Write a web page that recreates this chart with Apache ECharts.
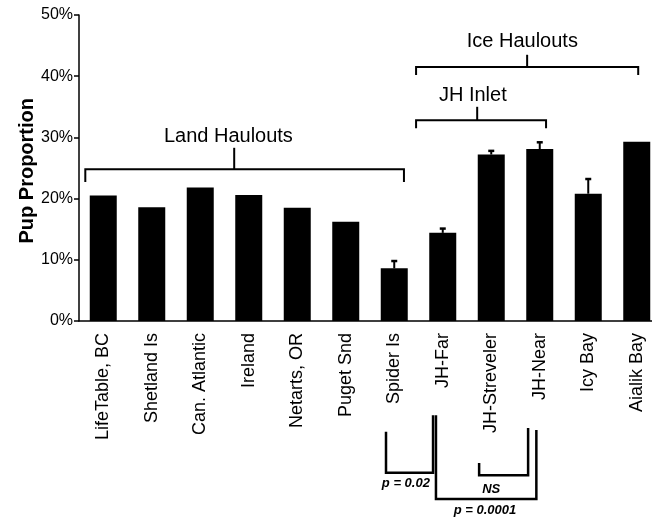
<!DOCTYPE html>
<html><head><meta charset="utf-8">
<script src="https://cdn.jsdelivr.net/npm/echarts@6/dist/echarts.min.js"></script>
<style>html,body{margin:0;padding:0;background:#fff}#c{width:652px;height:521px}</style>
</head><body><div id="c"></div>
<script>
const categories = ['LifeTable, BC','Shetland Is','Can. Atlantic','Ireland','Netarts, OR','Puget Snd','Spider Is','JH-Far','JH-Streveler','JH-Near','Icy Bay','Aialik Bay'];
const values = [20.5, 18.6, 21.8, 20.6, 18.5, 16.2, 8.6, 14.4, 27.2, 28.1, 20.8, 29.3];
const errorTops = [null, null, null, null, null, null, 9.8, 15.1, 27.8, 29.2, 23.2, null];
const yTicks = [0, 10, 20, 30, 40, 50];
const groupLabels = ['Land Haulouts', 'Ice Haulouts', 'JH Inlet'];
const testLabels = ['p = 0.02', 'p = 0.0001', 'NS'];

// layout of annotations (fractional category positions, value-axis levels)
const topBrackets = [
  {x0:-0.37, x1:6.2, tick:2.7, lab:2.58, y:24.8, end:22.7, tickTop:28.3, labY:30.1},
  {x0:6.45, x1:11.03, tick:8.74, lab:8.64, y:41.5, end:40.2, tickTop:43.5, labY:45.6},
  {x0:6.45, x1:9.13, tick:7.71, lab:7.62, y:32.8, end:31.5, tickTop:35.0, labY:36.9}
];
const bottomBrackets = [
  {x0:5.83, x1:6.80, top0:-18.1, top1:-15.4, bot:-24.8, lab:6.24, labY:-26.6},
  {x0:6.86, x1:8.93, top0:-15.4, top1:-17.8, bot:-29.1, lab:7.87, labY:-30.9},
  {x0:7.75, x1:8.76, top0:-23.2, top1:-17.5, bot:-25.2, lab:8.0, labY:-27.6}
];
const FONT = '"Liberation Sans", Arial, sans-serif';

const errData = [];
errorTops.forEach((e, i) => { if (e != null) errData.push([i, values[i], e]); });

function renderErr(params, api) {
  const b = api.coord([api.value(0), api.value(1)]);
  const t = api.coord([api.value(0), api.value(2)]);
  return {type:'group', children:[
    {type:'line', shape:{x1:b[0], y1:b[1], x2:t[0], y2:t[1]}, style:{stroke:'#000', lineWidth:2}},
    {type:'line', shape:{x1:t[0]-3, y1:t[1], x2:t[0]+3, y2:t[1]}, style:{stroke:'#000', lineWidth:2.5}}
  ]};
}

function txt(x, y, s, font) {
  return {type:'text', x:x, y:y, style:{text:s, fill:'#000', font:font, align:'center', verticalAlign:'middle', textAlign:'center', textVerticalAlign:'middle'}};
}

function renderAnno(params, api) {
  const o = api.coord([0, 0]);
  const band = api.size([1, 0])[0];
  const X = f => o[0] + f * band;
  const Y = v => api.coord([0, v])[1];
  const ch = [];
  topBrackets.forEach((b, i) => {
    ch.push({type:'polyline', shape:{points:[[X(b.x0),Y(b.end)],[X(b.x0),Y(b.y)],[X(b.x1),Y(b.y)],[X(b.x1),Y(b.end)]]}, style:{stroke:'#000', lineWidth:2, fill:null}});
    ch.push({type:'line', shape:{x1:X(b.tick), y1:Y(b.y), x2:X(b.tick), y2:Y(b.tickTop)}, style:{stroke:'#000', lineWidth:2}});
    ch.push(txt(X(b.lab), Y(b.labY), groupLabels[i], '20px ' + FONT));
  });
  bottomBrackets.forEach((b, i) => {
    ch.push({type:'polyline', shape:{points:[[X(b.x0),Y(b.top0)],[X(b.x0),Y(b.bot)],[X(b.x1),Y(b.bot)],[X(b.x1),Y(b.top1)]]}, style:{stroke:'#000', lineWidth:2.5, fill:null}});
    ch.push(txt(X(b.lab), Y(b.labY), testLabels[i], 'italic bold 13px ' + FONT));
  });
  return {type:'group', children:ch};
}

const chart = echarts.init(document.getElementById('c'));
chart.setOption({
  animation:false,
  backgroundColor:'#fff',
  grid:{left:79, top:15, width:582, height:306, outerBoundsMode:'none', containLabel:false},
  xAxis:{type:'category', data:categories,
    axisLine:{lineStyle:{color:'#000', width:1.5}},
    axisTick:{length:5, lineStyle:{color:'#000', width:1.5}},
    axisLabel:{rotate:90, interval:0, fontSize:18, color:'#000', fontFamily:FONT, margin:12}},
  yAxis:{type:'value', min:yTicks[0], max:yTicks[yTicks.length-1], interval:10,
    axisLine:{show:true, lineStyle:{color:'#000', width:1.5}},
    axisTick:{show:true, length:5, lineStyle:{color:'#000', width:1.5}},
    splitLine:{show:false},
    axisLabel:{formatter:'{value}%', fontSize:16, color:'#000', fontFamily:FONT, margin:6}},
  graphic:[{type:'text', left:17, top:98, rotation:Math.PI/2,
    style:{text:'Pup Proportion', fill:'#000', font:'bold 20px ' + FONT}}],
  series:[
    {type:'bar', data:values, barWidth:27, itemStyle:{color:'#000'}},
    {type:'custom', data:errData, renderItem:renderErr, encode:{x:0, y:[1,2]}, z:3},
    {type:'custom', data:[[0,0]], renderItem:renderAnno, clip:false, z:4}
  ]
});
</script></body></html>
